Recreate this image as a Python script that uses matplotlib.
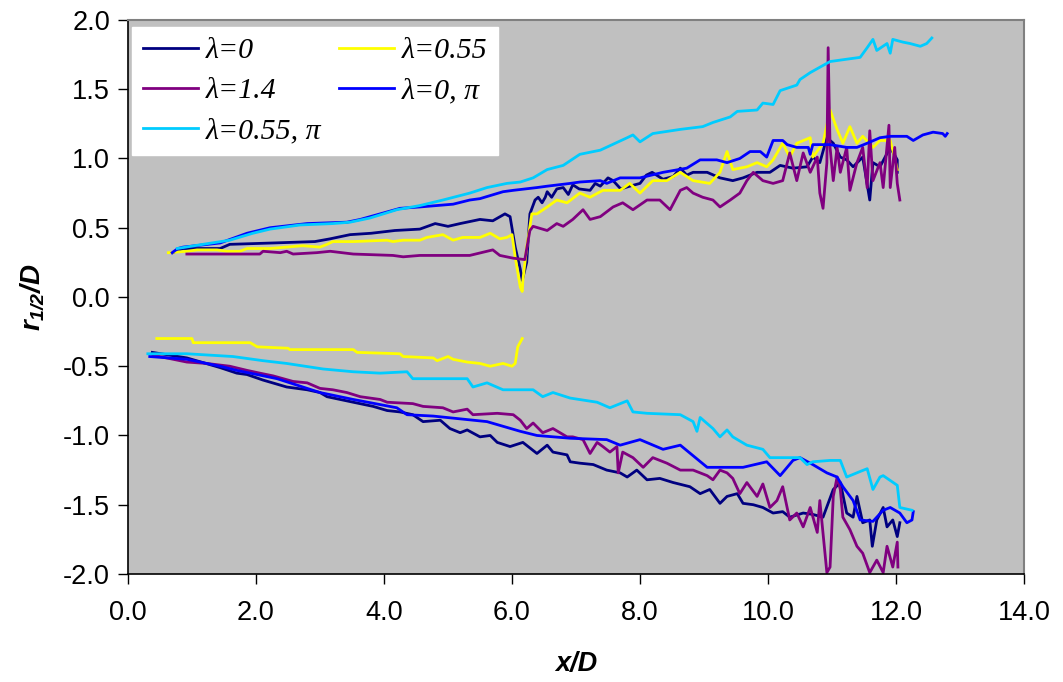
import matplotlib
matplotlib.use("Agg")
import matplotlib.pyplot as plt

plt.rcParams["font.family"] = ["Liberation Sans", "DejaVu Sans"]
plt.rcParams["mathtext.fontset"] = "custom"
plt.rcParams["mathtext.it"] = "Liberation Sans:bold:italic"
plt.rcParams["mathtext.rm"] = "Liberation Sans:bold:italic"
plt.rcParams["axes.unicode_minus"] = False

# ─── data ─────────────────────────────────────────────────────────────────────
x_ticks = [0, 2, 4, 6, 8, 10, 12, 14]
x_tick_labels = ["0.0", "2.0", "4.0", "6.0", "8.0", "10.0", "12.0", "14.0"]
y_ticks = [-2, -1.5, -1, -0.5, 0, 0.5, 1, 1.5, 2]
y_tick_labels = ["-2.0", "-1.5", "-1.0", "-0.5", "0.0", "0.5", "1.0", "1.5", "2.0"]

labels = ["λ=0", "λ=0.55", "λ=1.4", "λ=0, π", "λ=0.55, π"]
colors = ["#000080", "#FFFF00", "#800080", "#0000FF", "#00CCFF"]

# λ=0
x_l0_up = [0.70, 0.86, 1.44, 1.59, 2.27, 2.92, 3.16, 3.47, 3.80, 4.17, 4.56, 4.80, 5.00, 5.19, 5.50,
           5.70, 5.89, 5.97, 6.05, 6.13, 6.16, 6.23, 6.28, 6.36, 6.41, 6.47, 6.52, 6.55, 6.62, 6.70,
           6.80, 6.88, 6.95, 7.05, 7.22, 7.30, 7.38, 7.50, 7.58, 7.70, 7.84, 8.00, 8.10, 8.19, 8.36,
           8.52, 8.63, 8.73, 8.83, 9.05, 9.25, 9.45, 9.61, 9.83, 10.03, 10.19, 10.39, 10.61, 10.70,
           10.81, 10.92, 11.02, 11.13, 11.23, 11.33, 11.48, 11.59, 11.64, 11.75, 11.91, 12.02, 12.02]
y_l0_up = [0.32, 0.35, 0.35, 0.38, 0.39, 0.40, 0.42, 0.45, 0.46, 0.48, 0.49, 0.53, 0.51, 0.53, 0.56,
           0.55, 0.60, 0.58, 0.36, 0.20, 0.12, 0.25, 0.60, 0.70, 0.72, 0.68, 0.72, 0.76, 0.72, 0.78,
           0.79, 0.74, 0.81, 0.78, 0.77, 0.82, 0.80, 0.86, 0.84, 0.78, 0.80, 0.82, 0.88, 0.90, 0.85,
           0.87, 0.93, 0.88, 0.90, 0.90, 0.86, 0.84, 0.86, 0.90, 0.90, 0.95, 0.93, 0.94, 1.01,
           0.97, 1.15, 1.11, 1.01, 0.99, 0.94, 1.01, 0.70, 0.97, 0.94, 1.08, 0.99, 0.90]
x_l0_lo = [0.38, 0.92, 1.44, 1.70, 1.86, 2.11, 2.48, 2.80, 3.00, 3.11, 3.52, 3.83, 4.05, 4.25, 4.45,
           4.61, 4.88, 5.03, 5.19, 5.30, 5.50, 5.66, 5.77, 5.97, 6.17, 6.39, 6.55, 6.64, 6.86, 6.91,
           7.06, 7.27, 7.48, 7.69, 7.80, 7.95, 8.11, 8.31, 8.52, 8.78, 8.94, 9.09, 9.25, 9.36, 9.52,
           9.61, 9.77, 9.92, 10.08, 10.23, 10.34, 10.55, 10.70, 10.86, 11.02, 11.13, 11.23, 11.33,
           11.39, 11.48, 11.59, 11.63, 11.70, 11.80, 11.86, 11.95, 12.02, 12.06]
y_l0_lo = [-0.40, -0.44, -0.51, -0.55, -0.56, -0.60, -0.65, -0.67, -0.69, -0.72, -0.76, -0.79, -0.82,
           -0.83, -0.85, -0.90, -0.89, -0.95, -0.98, -0.96, -1.01, -1.00, -1.05, -1.08, -1.05, -1.13,
           -1.07, -1.12, -1.14, -1.19, -1.20, -1.21, -1.25, -1.27, -1.30, -1.25, -1.32, -1.31, -1.34,
           -1.37, -1.42, -1.39, -1.49, -1.44, -1.42, -1.49, -1.50, -1.52, -1.56, -1.55, -1.59, -1.56,
           -1.57, -1.59, -1.39, -1.34, -1.56, -1.59, -1.44, -1.63, -1.61, -1.80, -1.61, -1.52, -1.66,
           -1.61, -1.73, -1.63]

# λ=0.55
x_l055_up = [0.63, 0.92, 1.08, 1.39, 1.55, 1.75, 1.86, 2.22, 2.73, 3.00, 3.11, 3.20, 3.52, 4.05, 4.14,
             4.30, 4.56, 4.67, 4.92, 5.08, 5.23, 5.50, 5.66, 5.81, 5.92, 6.00, 6.05, 6.13, 6.16, 6.17,
             6.23, 6.31, 6.39, 6.55, 6.70, 6.86, 7.06, 7.22, 7.42, 7.69, 7.84, 8.00, 8.20, 8.42, 8.63,
             8.83, 9.09, 9.25, 9.36, 9.45, 9.67, 9.83, 9.98, 10.08, 10.23, 10.34, 10.45, 10.66, 10.70,
             10.86, 10.97, 11.08, 11.17, 11.28, 11.39, 11.48, 11.64, 11.75, 11.91, 11.95, 12.02]
y_l055_up = [0.32, 0.33, 0.34, 0.34, 0.33, 0.33, 0.35, 0.35, 0.37, 0.36, 0.38, 0.40, 0.40, 0.41, 0.40,
             0.41, 0.41, 0.43, 0.45, 0.41, 0.43, 0.43, 0.46, 0.42, 0.43, 0.45, 0.29, 0.07, 0.04, 0.12,
             0.36, 0.60, 0.60, 0.65, 0.70, 0.68, 0.75, 0.72, 0.77, 0.77, 0.82, 0.75, 0.84, 0.84, 0.90,
             0.84, 0.82, 0.90, 1.05, 0.92, 0.94, 0.97, 0.94, 0.99, 1.11, 1.01, 1.11, 1.15, 1.01,
             1.11, 1.35, 1.21, 1.11, 1.23, 1.11, 1.16, 1.08, 1.13, 1.13, 1.06, 0.92]
x_l055_lo = [0.45, 1.00, 1.02, 1.91, 2.02, 2.50, 2.53, 3.52, 3.58, 4.25, 4.30, 4.77, 4.83, 5.00, 5.08,
             5.30, 5.50, 5.66, 5.86, 6.00, 6.05, 6.09, 6.16]
y_l055_lo = [-0.30, -0.30, -0.33, -0.33, -0.36, -0.37, -0.38, -0.38, -0.40, -0.41, -0.43, -0.44, -0.46,
             -0.43, -0.45, -0.47, -0.48, -0.50, -0.48, -0.50, -0.48, -0.36, -0.30]

# λ=1.4
x_l14_up = [0.92, 2.06, 2.11, 2.38, 2.48, 2.58, 2.95, 3.16, 3.52, 4.14, 4.30, 4.56, 5.34, 5.61, 5.70,
            5.81, 6.02, 6.20, 6.28, 6.33, 6.55, 6.70, 6.80, 6.95, 7.11, 7.22, 7.38, 7.58, 7.73, 7.89,
            8.11, 8.31, 8.47, 8.63, 8.73, 8.83, 8.98, 9.14, 9.25, 9.41, 9.56, 9.67, 9.77, 9.92, 10.08,
            10.23, 10.34, 10.45, 10.55, 10.66, 10.77, 10.81, 10.86, 10.92, 10.94, 10.97, 11.02, 11.08,
            11.13, 11.23, 11.28, 11.39, 11.48, 11.55, 11.59, 11.64, 11.75, 11.80, 11.89, 11.91, 11.98,
            12.02, 12.06]
y_l14_up = [0.31, 0.31, 0.33, 0.32, 0.33, 0.31, 0.32, 0.33, 0.31, 0.30, 0.29, 0.30, 0.30, 0.33, 0.34,
            0.30, 0.28, 0.27, 0.48, 0.51, 0.48, 0.53, 0.51, 0.56, 0.63, 0.56, 0.58, 0.65, 0.68, 0.63,
            0.70, 0.70, 0.63, 0.77, 0.79, 0.75, 0.72, 0.70, 0.65, 0.70, 0.75, 0.84, 0.90, 0.84, 0.82,
            0.84, 1.04, 0.84, 1.04, 0.90, 1.01, 0.75, 0.64, 0.97, 1.80, 1.08, 0.84, 1.08,
            0.90, 1.08, 0.77, 0.97, 1.08, 0.79, 1.20, 0.84, 0.97, 0.79, 1.24, 0.79, 1.08,
            0.82, 0.70]
x_l14_lo = [0.39, 0.92, 1.23, 1.59, 1.86, 2.06, 2.27, 2.58, 2.80, 3.00, 3.20, 3.42, 3.63, 3.94, 4.05,
            4.45, 4.61, 4.92, 5.08, 5.30, 5.39, 5.77, 6.02, 6.13, 6.23, 6.33, 6.48, 6.64, 6.86, 6.95,
            7.11, 7.22, 7.33, 7.42, 7.53, 7.64, 7.66, 7.73, 7.89, 8.05, 8.20, 8.42, 8.63, 8.83, 9.05,
            9.14, 9.25, 9.36, 9.45, 9.56, 9.67, 9.83, 9.92, 10.03, 10.14, 10.23, 10.34, 10.45, 10.55,
            10.66, 10.77, 10.81, 10.92, 10.97, 11.02, 11.08, 11.13, 11.17, 11.28, 11.39, 11.48, 11.59,
            11.70, 11.80, 11.86, 11.95, 12.02, 12.03]
y_l14_lo = [-0.42, -0.47, -0.48, -0.50, -0.53, -0.55, -0.57, -0.61, -0.62, -0.66, -0.67, -0.69, -0.72,
            -0.74, -0.76, -0.77, -0.79, -0.80, -0.83, -0.81, -0.85, -0.84, -0.85, -0.89, -0.95, -0.91,
            -0.98, -0.95, -1.01, -1.01, -1.03, -1.13, -1.05, -1.08, -1.12, -1.08, -1.27, -1.12, -1.16,
            -1.23, -1.16, -1.20, -1.25, -1.25, -1.29, -1.32, -1.25, -1.27, -1.31, -1.42, -1.34, -1.44,
            -1.35, -1.52, -1.47, -1.37, -1.61, -1.56, -1.66, -1.52, -1.70, -1.47, -1.99, -1.95, -1.44,
            -1.30, -1.39, -1.59, -1.68, -1.80, -1.85, -1.99, -1.90, -1.99, -1.80, -1.95, -1.77, -1.95]

# λ=0, π
x_l0pi_up = [0.69, 0.78, 0.86, 1.44, 1.86, 2.22, 2.80, 3.42, 3.63, 3.94, 4.25, 4.56, 5.08, 5.34, 5.50,
             5.86, 6.02, 6.39, 6.55, 6.91, 7.06, 7.38, 7.48, 7.69, 8.00, 8.36, 8.73, 8.94, 9.20, 9.36,
             9.56, 9.72, 9.88, 9.98, 10.08, 10.23, 10.30, 10.45, 10.63, 10.66, 10.70, 10.97, 11.23,
             11.39, 11.55, 11.75, 11.91, 12.17, 12.27, 12.42, 12.58, 12.73, 12.77, 12.80]
y_l0pi_up = [0.32, 0.35, 0.36, 0.39, 0.46, 0.50, 0.53, 0.54, 0.56, 0.60, 0.64, 0.65, 0.67, 0.70, 0.71,
             0.76, 0.77, 0.79, 0.80, 0.82, 0.83, 0.84, 0.82, 0.86, 0.86, 0.90, 0.93, 0.99, 0.99, 0.97,
             1.00, 1.05, 1.05, 1.01, 1.13, 1.13, 1.10, 1.08, 1.08, 1.03, 1.10, 1.10, 1.08,
             1.08, 1.11, 1.15, 1.16, 1.16, 1.13, 1.17, 1.19, 1.18, 1.16, 1.18]
x_l0pi_lo = [0.34, 0.92, 1.44, 1.70, 2.33, 3.00, 3.52, 4.20, 4.36, 4.77, 5.61, 6.13, 6.39, 6.91, 7.48,
             7.69, 8.00, 8.36, 8.63, 9.05, 9.36, 9.61, 9.98, 10.19, 10.39, 10.50, 10.70, 10.92, 11.08,
             11.17, 11.33, 11.44, 11.64, 11.80, 11.91, 12.06, 12.17, 12.25, 12.27]
y_l0pi_lo = [-0.43, -0.45, -0.50, -0.53, -0.59, -0.69, -0.74, -0.80, -0.85, -0.86, -0.90, -0.97, -1.00,
             -1.02, -1.03, -1.07, -1.03, -1.10, -1.07, -1.23, -1.23, -1.23, -1.19, -1.29, -1.18, -1.16,
             -1.21, -1.27, -1.30, -1.37, -1.47, -1.61, -1.62, -1.54, -1.52, -1.56, -1.63, -1.61, -1.55]

# λ=0.55, π
x_l055pi_up = [0.77, 1.17, 1.59, 1.95, 2.22, 2.69, 3.20, 3.47, 3.78, 4.20, 4.56, 4.92, 5.34, 5.61, 5.92,
               6.13, 6.33, 6.55, 6.80, 7.06, 7.38, 7.80, 7.89, 8.00, 8.20, 8.63, 8.98, 9.14, 9.41, 9.52,
               9.83, 9.92, 10.08, 10.19, 10.45, 10.50, 10.66, 10.97, 11.28, 11.44, 11.55, 11.64, 11.70,
               11.86, 11.91, 11.95, 12.11, 12.22, 12.38, 12.48, 12.56]
y_l055pi_up = [0.35, 0.38, 0.41, 0.46, 0.49, 0.52, 0.53, 0.54, 0.57, 0.63, 0.66, 0.70, 0.75, 0.79, 0.82,
               0.83, 0.86, 0.92, 0.95, 1.03, 1.06, 1.15, 1.17, 1.12, 1.18, 1.21, 1.23, 1.26, 1.30, 1.34,
               1.35, 1.40, 1.39, 1.49, 1.53, 1.57, 1.62, 1.70, 1.72, 1.73, 1.80, 1.86, 1.78,
               1.83, 1.76, 1.86, 1.84, 1.83, 1.81, 1.83, 1.87]
x_l055pi_lo = [0.31, 0.92, 1.64, 2.11, 2.48, 3.05, 3.52, 3.94, 4.36, 4.45, 5.30, 5.39, 5.61, 5.86, 6.33,
               6.48, 6.64, 6.91, 7.33, 7.53, 7.80, 7.89, 8.11, 8.63, 8.83, 8.89, 8.94, 9.14, 9.25, 9.36,
               9.45, 9.67, 9.92, 10.03, 10.50, 10.61, 10.70, 10.97, 11.13, 11.23, 11.44, 11.55, 11.64,
               11.75, 11.80, 12.02, 12.06, 12.25]
y_l055pi_lo = [-0.41, -0.41, -0.43, -0.46, -0.48, -0.52, -0.54, -0.55, -0.54, -0.59, -0.59, -0.65, -0.62,
               -0.67, -0.67, -0.72, -0.69, -0.73, -0.76, -0.80, -0.75, -0.83, -0.84, -0.85, -0.90, -0.97,
               -0.87, -0.95, -1.01, -0.96, -1.01, -1.07, -1.10, -1.16, -1.16, -1.21, -1.19, -1.18, -1.18,
               -1.30, -1.26, -1.24, -1.39, -1.30, -1.29, -1.36, -1.52, -1.54]

series = [
    (x_l0_up, y_l0_up, x_l0_lo, y_l0_lo),
    (x_l055_up, y_l055_up, x_l055_lo, y_l055_lo),
    (x_l14_up, y_l14_up, x_l14_lo, y_l14_lo),
    (x_l0pi_up, y_l0pi_up, x_l0pi_lo, y_l0pi_lo),
    (x_l055pi_up, y_l055pi_up, x_l055pi_lo, y_l055pi_lo),
]

# ─── plot ─────────────────────────────────────────────────────────────────────
fig = plt.figure(figsize=(10.63, 6.82), dpi=100)
ax = fig.add_axes([0.1204, 0.1584, 0.8429, 0.8123])
ax.set_facecolor("#C0C0C0")

handles = []
for (xu, yu, xl, yl), c, lab in zip(series, colors, labels):
    h, = ax.plot(xu, yu, color=c, lw=2.0, label=lab)
    ax.plot(xl, yl, color=c, lw=2.0)
    handles.append(h)

ax.set_xlim(0, 14)
ax.set_ylim(-2, 2)
ax.set_xticks(x_ticks)
ax.set_xticklabels(x_tick_labels)
ax.set_yticks(y_ticks)
ax.set_yticklabels(y_tick_labels)
ax.tick_params(axis="both", direction="out", length=7, width=1, labelsize=19.5, color="black")
ax.tick_params(axis="x", pad=12)
ax.tick_params(axis="y", pad=6)

for side in ["top", "right"]:
    ax.spines[side].set_color("#808080")
    ax.spines[side].set_linewidth(1.5)
for side in ["left", "bottom"]:
    ax.spines[side].set_color("black")
    ax.spines[side].set_linewidth(1.2)

ax.set_xlabel("x/D", fontsize=19.5, fontweight="bold", fontstyle="italic", labelpad=18)
ax.set_ylabel(r"$r_{1/2}/D$", fontsize=20, labelpad=12)

# legend filled row-wise like the original (matplotlib fills columns first)
order = [0, 2, 4, 1, 3]
leg = ax.legend([handles[i] for i in order], [labels[i] for i in order],
                ncol=2, loc="upper left", bbox_to_anchor=(0.005, 0.988),
                prop={"family": "Liberation Serif", "style": "italic", "size": 21.5},
                frameon=True, fancybox=False, framealpha=1, facecolor="white",
                edgecolor="white", handlelength=1.85, handletextpad=0.25,
                columnspacing=0.6, labelspacing=0.45, borderpad=0.35, borderaxespad=0)

fig.savefig("out.png", dpi=100)
